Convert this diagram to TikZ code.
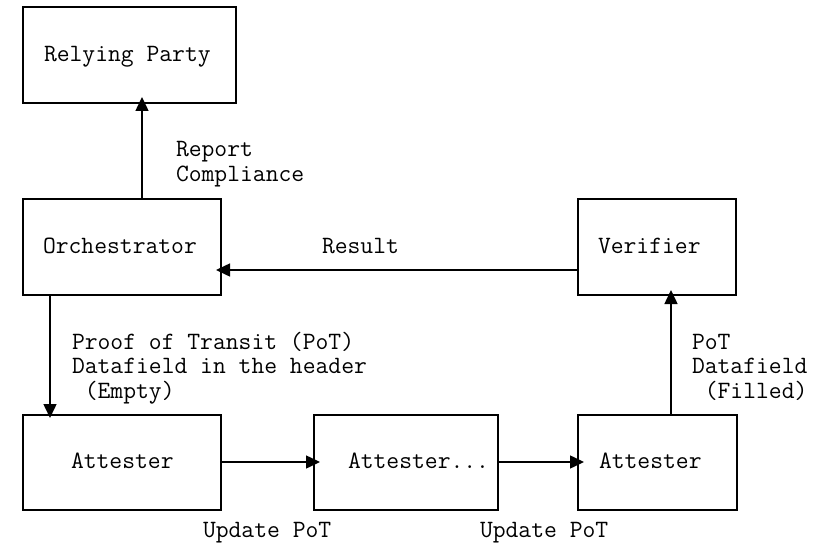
\documentclass[tikz,border=0pt]{standalone}
\usetikzlibrary{arrows.meta}
\tikzset{
  box/.style={draw, line width=1.5pt, rectangle, inner sep=0pt, outer sep=0pt},
  lbl/.style={anchor=base west, inner sep=0pt, outer sep=0pt, font=\ttfamily\fontsize{24.9}{24.5}\selectfont},
  conn/.style={line width=1.5pt, -{Triangle[length=14pt,width=13pt]}},
}
\begin{document}
\begin{tikzpicture}[x=1pt,y=-1pt]
\useasboundingbox (0,0) rectangle (815,543);
% boxes
\node[box, minimum width=213pt, minimum height=96pt] (rp) at (129.5,55) {};
\node[box, minimum width=198pt, minimum height=96pt] (orch) at (122,247) {};
\node[box, minimum width=158pt, minimum height=96pt] (ver) at (657,247) {};
\node[box, minimum width=198pt, minimum height=95pt] (a1) at (122,462.5) {};
\node[box, minimum width=184pt, minimum height=95pt] (a2) at (406,462.5) {};
\node[box, minimum width=159pt, minimum height=95pt] (a3) at (657.5,462.5) {};
% box texts
\node[lbl] (trp) at (44,62) {Relying Party};
\node[lbl] (torch) at (43,253) {Orchestrator};
\node[lbl] (tver) at (598,253) {Verifier};
\node[lbl] (ta1) at (71,468) {Attester};
\node[lbl] (ta2) at (348,468) {Attester...};
\node[lbl] (ta3) at (599,468) {Attester};
% connector labels
\node[lbl] (lrep) at (176,157) {\vtop{\hbox{Report}\hbox{Compliance}}};
\node[lbl] (lres) at (322,253) {Result};
\node[lbl] (lpot) at (72,349) {\vtop{\hbox{Proof of Transit (PoT)}\hbox{Datafield in the header}\hbox{\ (Empty)}}};
\node[lbl] (lpot2) at (692,349) {\vtop{\hbox{PoT}\hbox{Datafield}\hbox{\ (Filled)}}};
\node[lbl] (lup1) at (203,537) {Update PoT};
\node[lbl] (lup2) at (480,537) {Update PoT};
% connector guides
\coordinate (xrp) at (142,0);
\coordinate (yres) at (0,270);
\coordinate (xatt) at (50,0);
\coordinate (yatt) at (0,462);
\coordinate (xver) at (671,0);
% connectors
\draw[conn, shorten >=-6pt] (orch.north -| xrp) -- (rp.south -| xrp);
\draw[conn, shorten >=-5pt] (ver.west |- yres) -- (orch.east |- yres);
\draw[conn, shorten >=-3pt] (orch.south -| xatt) -- (a1.north -| xatt);
\draw[conn, shorten >=-6pt] (a1.east |- yatt) -- (a2.west |- yatt);
\draw[conn, shorten >=-6pt] (a2.east |- yatt) -- (a3.west |- yatt);
\draw[conn, shorten >=-5pt] (a3.north -| xver) -- (ver.south -| xver);
\end{tikzpicture}
\end{document}
